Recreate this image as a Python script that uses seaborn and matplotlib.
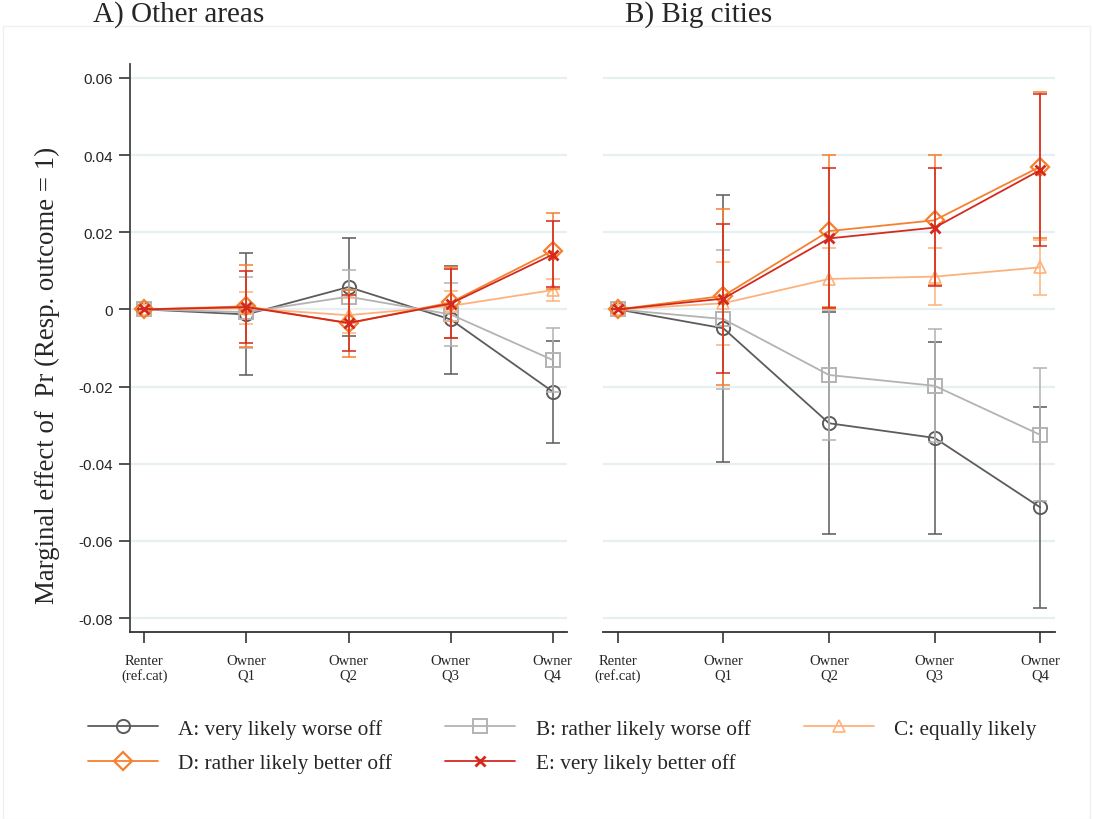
import pandas as pd
import matplotlib.pyplot as plt
import seaborn as sns
from matplotlib.lines import Line2D
from matplotlib.patches import Rectangle

# ---------------- DATA ---------------- #
categories = ["Renter\n(ref.cat)", "Owner\nQ1", "Owner\nQ2", "Owner\nQ3", "Owner\nQ4"]
series = ["A: very likely worse off", "B: rather likely worse off", "C: equally likely",
          "D: rather likely better off", "E: very likely better off"]
panels = ["A) Other areas", "B) Big cities"]
ytick_vals = [-0.08, -0.06, -0.04, -0.02, 0, 0.02, 0.04, 0.06]
ytick_labels = ["-0.08", "-0.06", "-0.04", "-0.02", "0", "0.02", "0.04", "0.06"]

# A) Other areas: estimate, lower and upper CI
other_A = [0, -0.0013, 0.0058, -0.0026, -0.0213]
other_A_lo = [0, -0.0170, -0.0069, -0.0167, -0.0345]
other_A_hi = [0, 0.0146, 0.0184, 0.0112, -0.0081]
other_B = [0, -0.0007, 0.0033, -0.0013, -0.0131]
other_B_lo = [0, -0.0099, -0.0035, -0.0094, -0.0215]
other_B_hi = [0, 0.0085, 0.0102, 0.0068, -0.0047]
other_C = [0, 0.0003, -0.0015, 0.0009, 0.0050]
other_C_lo = [0, -0.0039, -0.0060, -0.0030, 0.0022]
other_C_hi = [0, 0.0045, 0.0030, 0.0048, 0.0080]
other_D = [0, 0.0008, -0.0036, 0.0018, 0.0152]
other_D_lo = [0, -0.0098, -0.0123, -0.0074, 0.0053]
other_D_hi = [0, 0.0114, 0.0051, 0.0110, 0.0251]
other_E = [0, 0.0006, -0.0035, 0.0015, 0.0142]
other_E_lo = [0, -0.0088, -0.0108, -0.0075, 0.0058]
other_E_hi = [0, 0.0100, 0.0038, 0.0105, 0.0228]

# B) Big cities
big_A = [0, -0.0049, -0.0295, -0.0333, -0.0513]
big_A_lo = [0, -0.0396, -0.0583, -0.0583, -0.0773]
big_A_hi = [0, 0.0296, -0.0007, -0.0084, -0.0252]
big_B = [0, -0.0025, -0.0170, -0.0198, -0.0325]
big_B_lo = [0, -0.0206, -0.0338, -0.0344, -0.0497]
big_B_hi = [0, 0.0155, -0.0002, -0.0052, -0.0153]
big_C = [0, 0.0016, 0.0079, 0.0085, 0.0109]
big_C_lo = [0, -0.0092, 0.0002, 0.0011, 0.0037]
big_C_hi = [0, 0.0123, 0.0158, 0.0158, 0.0180]
big_D = [0, 0.0035, 0.0203, 0.0231, 0.0370]
big_D_lo = [0, -0.0196, 0.0006, 0.0062, 0.0184]
big_D_hi = [0, 0.0260, 0.0401, 0.0401, 0.0564]
big_E = [0, 0.0028, 0.0184, 0.0212, 0.0361]
big_E_lo = [0, -0.0166, 0.0004, 0.0060, 0.0164]
big_E_hi = [0, 0.0221, 0.0367, 0.0367, 0.0558]

# build long table
rows = []
tables = {
    panels[0]: [(other_A, other_A_lo, other_A_hi), (other_B, other_B_lo, other_B_hi),
                (other_C, other_C_lo, other_C_hi), (other_D, other_D_lo, other_D_hi),
                (other_E, other_E_lo, other_E_hi)],
    panels[1]: [(big_A, big_A_lo, big_A_hi), (big_B, big_B_lo, big_B_hi),
                (big_C, big_C_lo, big_C_hi), (big_D, big_D_lo, big_D_hi),
                (big_E, big_E_lo, big_E_hi)],
}
for panel, lst in tables.items():
    for name, (est, lo, hi) in zip(series, lst):
        for i in range(len(categories)):
            rows.append({"panel": panel, "series": name, "pos": i,
                         "est": est[i], "lo": lo[i], "hi": hi[i]})
df = pd.DataFrame(rows)

# styles
colors = ["#5c5c5c", "#b3b3b3", "#fdb27d", "#f5802e", "#d42a1e"]
markers = ["o", "s", "^", "D", "x"]
msizes = [9.5, 9.5, 9, 9, 6.5]
mews = [1.4, 1.4, 1.2, 1.6, 2.0]

sns.set_style("white")
plt.rcParams["font.family"] = ["Liberation Serif", "DejaVu Serif"]

fig = plt.figure(figsize=(10.93, 8.2), dpi=100)
W, H = 1093, 820
ax1 = fig.add_axes([130 / W, 1 - 633 / H, (567 - 130) / W, (633 - 65) / H])
ax2 = fig.add_axes([603 / W, 1 - 633 / H, (1055 - 603) / W, (633 - 65) / H])

for ax, panel in zip([ax1, ax2], panels):
    for y in ytick_vals:
        ax.axhline(y, color="#e6eff1", lw=1.6, zorder=0)
    for k, name in enumerate(series):
        sub = df[(df.panel == panel) & (df.series == name)]
        ax.errorbar(sub["pos"], sub["est"],
                    yerr=[sub["est"] - sub["lo"], sub["hi"] - sub["est"]],
                    fmt="none", ecolor=colors[k], elinewidth=1.4, capsize=5,
                    capthick=1.4, alpha=0.8, zorder=2 + k)
        sns.lineplot(data=sub, x="pos", y="est", ax=ax, color=colors[k],
                     marker=markers[k], markersize=msizes[k], mfc="none",
                     mec=colors[k], mew=mews[k], lw=1.3, legend=False,
                     zorder=3 + k)
    ax.set_xlim(-0.14, 4.14)
    ax.set_ylim(-0.0836, 0.0636)
    ax.set_xticks(range(len(categories)))
    ax.set_xticklabels(categories, fontsize=10.5, linespacing=1.1)
    ax.set_xlabel("")
    ax.set_ylabel("")
    ax.tick_params(axis="x", length=8, width=1.3, color="#444444", pad=8,
                   bottom=True)
    for s in ["top", "right"]:
        ax.spines[s].set_visible(False)
    ax.spines["bottom"].set_color("#333333")
    ax.spines["bottom"].set_linewidth(1.3)
    fig.text(ax.get_position().x0 - (37 if ax is ax1 else -22) / W, 1 - 15 / H,
             panel, fontsize=21, va="center", ha="left")

ax1.set_yticks(ytick_vals)
ax1.set_yticklabels(ytick_labels, fontsize=11, family="Liberation Sans")
ax1.tick_params(axis="y", length=8, width=1.3, color="#444444", pad=4, left=True)
ax1.spines["left"].set_color("#444444")
ax1.spines["left"].set_linewidth(1.3)
ax2.set_yticks(ytick_vals)
ax2.tick_params(axis="y", left=False, labelleft=False)
ax2.spines["left"].set_visible(False)

fig.text(47 / W, 1 - 375 / H, "Marginal effect of  Pr (Resp. outcome = 1)",
         rotation=90, fontsize=19.4, va="center", ha="center")

# legend filled row-wise: A B C / D E
order = [0, 3, 1, 4, 2]
handles = [Line2D([], [], color=colors[k], marker=markers[k], markersize=msizes[k],
                  mfc="none", mec=colors[k], mew=mews[k], lw=1.3)
           for k in order]
fig.legend(handles, [series[k] for k in order], ncol=3, loc="upper left",
           bbox_to_anchor=(88 / W, 1 - 720 / H), frameon=False,
           prop={"family": "Liberation Serif", "size": 15.3}, handlelength=3.3,
           handletextpad=0.95, columnspacing=2.5, labelspacing=0.68,
           borderpad=0, borderaxespad=0)

fig.patches.append(Rectangle((3 / W, 0), 1087 / W, 1 - 27 / H, transform=fig.transFigure,
                             fill=False, edgecolor="#f0f0f0", lw=1))

plt.savefig("out.png", dpi=100)
